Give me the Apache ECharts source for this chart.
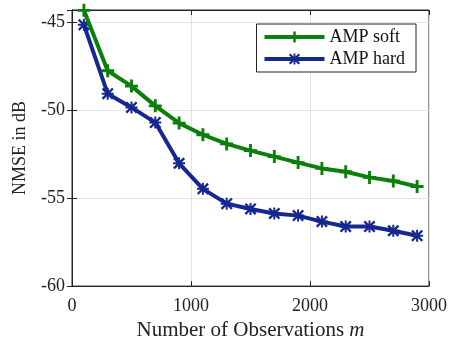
<!DOCTYPE html>
<html><head><meta charset="utf-8">
<script src="https://cdn.jsdelivr.net/npm/echarts@6/dist/echarts.min.js"></script>
<style>html,body{margin:0;padding:0;background:#fff}#c{width:451px;height:346px}</style>
</head><body><div id="c"></div>
<script>
const observations = [100,300,500,700,900,1100,1300,1500,1700,1900,2100,2300,2500,2700,2900];
const ampSoft = [-44.35,-47.78,-48.65,-49.77,-50.75,-51.41,-51.93,-52.31,-52.65,-52.99,-53.32,-53.51,-53.83,-54.03,-54.35];
const ampHard = [-45.17,-49.08,-49.86,-50.72,-53.03,-54.48,-55.32,-55.62,-55.88,-56.0,-56.34,-56.62,-56.62,-56.86,-57.14];
const seriesNames = ['AMP soft','AMP hard'];
const xTicks = [0,1000,2000,3000];
const yTicks = [-60,-55,-50,-45];

const font = '"Liberation Serif", serif';
const plusPath = 'path://M7,0h4v7h7v4h-7v7h-4v-7h-7v-4h7z';
const starPath = 'path://M2.5,0L9,6.5L15.5,0L18,2.5L11.5,9L18,15.5L15.5,18L9,11.5L2.5,18L0,15.5L6.5,9L0,2.5z M7.5,0h3v7.5h7.5v3h-7.5v7.5h-3v-7.5h-7.5v-3h7.5z';
const pair = (xs, ys) => xs.map((x,i)=>[x, ys[i]]);

const chart = echarts.init(document.getElementById('c'));
const axisCommon = {
  axisLine:{show:true,lineStyle:{color:'#262626',width:1}},
  axisTick:{show:true,inside:true,length:5,lineStyle:{color:'#262626'}},
};
chart.setOption({
  animation:false,
  grid:{left:72,right:22,top:10,bottom:56,show:true,borderColor:'#262626',borderWidth:1},
  legend:{
    show:true, right:35, top:24, orient:'vertical',
    backgroundColor:'#fff', borderColor:'#262626', borderWidth:1, borderRadius:0,
    padding:[4,11,4,6], itemGap:4, itemWidth:60, itemHeight:14,
    lineStyle:{width:4},
    textStyle:{fontFamily:font,fontSize:18,color:'#111'},
    data:seriesNames
  },
  xAxis:[
    Object.assign({type:'value',min:0,max:3000,interval:1000,
      axisLabel:{color:'#222',fontFamily:font,fontSize:18,margin:11,
        formatter:v=> xTicks.includes(v) ? String(v) : ''},
      splitLine:{show:true,lineStyle:{color:'#e4e4e4'}},
      name:'Number of Observations {i|m}', nameLocation:'middle', nameGap:32,
      nameTextStyle:{fontFamily:font,fontSize:21,color:'#222',rich:{i:{fontFamily:font,fontStyle:'italic',fontSize:21}}}
    },axisCommon),
    Object.assign({type:'value',position:'top',min:0,max:3000,interval:1000,axisLabel:{show:false},splitLine:{show:false}},axisCommon)
  ],
  yAxis:[
    Object.assign({type:'value',min:-60,max:-44.33,interval:5,
      axisLabel:{color:'#222',fontFamily:font,fontSize:18,margin:7,
        formatter:v=> (yTicks.includes(Math.round(v*100)/100) ? String(v) : '')},
      splitLine:{show:true,lineStyle:{color:'#e4e4e4'}},
      name:'NMSE in dB', nameLocation:'middle', nameGap:43,
      nameTextStyle:{fontFamily:font,fontSize:18,color:'#222'}
    },axisCommon),
    Object.assign({type:'value',position:'right',min:-60,max:-44.33,interval:5,axisLabel:{show:false},splitLine:{show:false}},axisCommon)
  ],
  series:[
    {name:seriesNames[0],type:'line',data:pair(observations,ampSoft),
      lineStyle:{color:'#0a800a',width:4},itemStyle:{color:'#0a800a'},
      symbol:plusPath,symbolSize:13,showAllSymbol:true,z:3},
    {name:seriesNames[1],type:'line',data:pair(observations,ampHard),
      lineStyle:{color:'#152890',width:4},itemStyle:{color:'#152890'},
      symbol:starPath,symbolSize:12,showAllSymbol:true,z:2}
  ]
});
</script></body></html>
